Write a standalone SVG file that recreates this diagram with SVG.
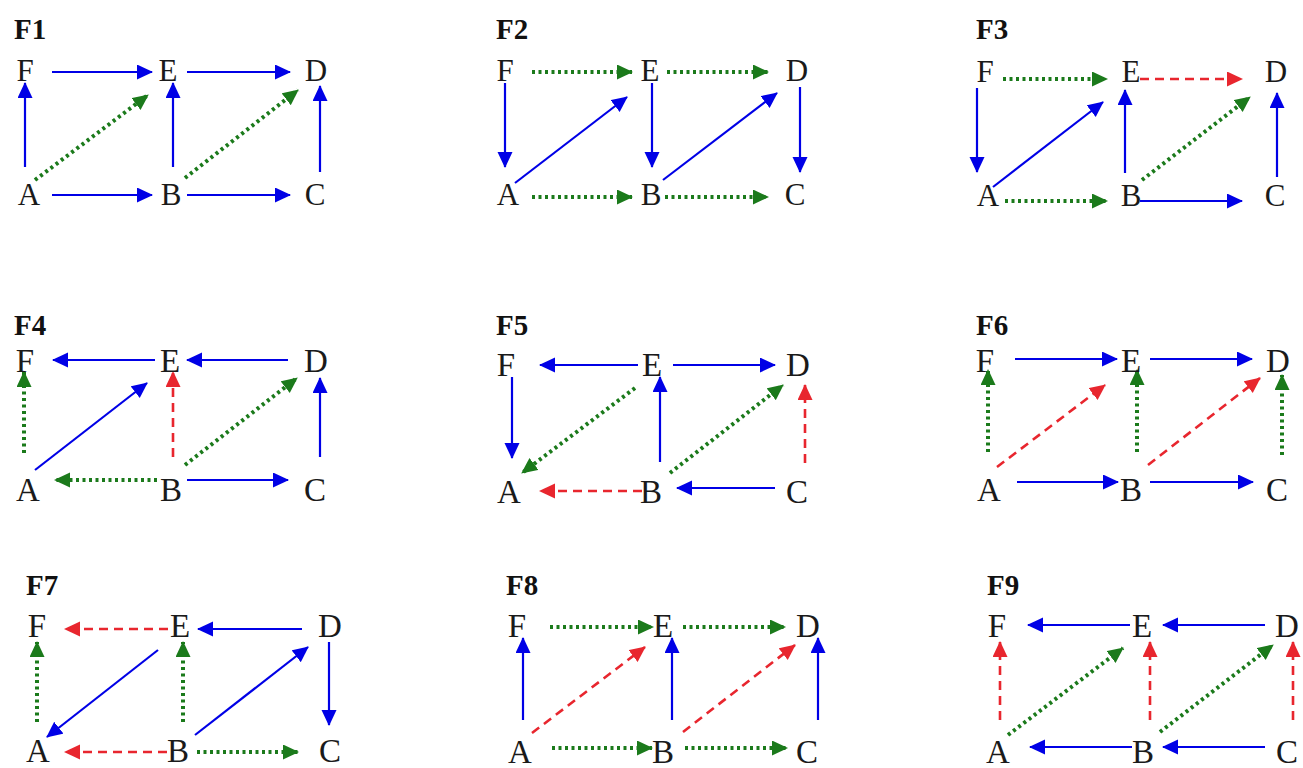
<svg xmlns="http://www.w3.org/2000/svg" width="1303" height="768" viewBox="0 0 1303 768">
<style>
.n{font-family:"Liberation Serif","Times New Roman",serif;font-size:31px;fill:#1a1a1a;text-anchor:middle}
.n2{font-size:33px}
.t{font-family:"Liberation Serif","Times New Roman",serif;font-size:29px;font-weight:bold;fill:#111}
.b{stroke:#0000e6;stroke-width:2.2;fill:none;marker-end:url(#ab)}
.g{stroke:#1b7a1b;stroke-width:4;stroke-dasharray:3 3.5;fill:none;marker-end:url(#ag)}
.r{stroke:#e8262e;stroke-width:2.6;stroke-dasharray:9 6;fill:none;marker-end:url(#ar)}
</style>
<defs>
<marker id="ab" markerUnits="userSpaceOnUse" markerWidth="17" markerHeight="16" refX="15" refY="7.5" orient="auto"><path d="M0,0 L16,7.5 L0,15 z" fill="#0000e6"/></marker>
<marker id="ag" markerUnits="userSpaceOnUse" markerWidth="17" markerHeight="16" refX="15" refY="7.5" orient="auto"><path d="M0,0 L16,7.5 L0,15 z" fill="#1b7a1b"/></marker>
<marker id="ar" markerUnits="userSpaceOnUse" markerWidth="17" markerHeight="16" refX="15" refY="7.5" orient="auto"><path d="M0,0 L16,7.5 L0,15 z" fill="#e8262e"/></marker>
</defs>
<rect width="1303" height="768" fill="#ffffff"/>

<g id="connectors">
<!-- F1 -->
<line class="b" x1="52" y1="72" x2="152" y2="72"/>
<line class="b" x1="187" y1="72" x2="290" y2="72"/>
<line class="b" x1="25" y1="167" x2="25" y2="83"/>
<line class="b" x1="173" y1="167" x2="173" y2="83"/>
<line class="b" x1="320" y1="172" x2="320" y2="86"/>
<line class="b" x1="52" y1="195" x2="152" y2="195"/>
<line class="b" x1="187" y1="195" x2="290" y2="195"/>
<line class="g" x1="35" y1="180" x2="148" y2="95"/>
<line class="g" x1="185" y1="178" x2="298" y2="90"/>
<!-- F2 -->
<line class="g" x1="532" y1="72" x2="632" y2="72"/>
<line class="g" x1="667" y1="72" x2="768" y2="72"/>
<line class="b" x1="505" y1="83" x2="505" y2="167"/>
<line class="b" x1="652" y1="83" x2="652" y2="167"/>
<line class="b" x1="800" y1="87" x2="800" y2="172"/>
<line class="b" x1="515" y1="183" x2="627" y2="97"/>
<line class="b" x1="663" y1="180" x2="777" y2="93"/>
<line class="g" x1="532" y1="197" x2="632" y2="197"/>
<line class="g" x1="665" y1="197" x2="768" y2="197"/>
<!-- F3 -->
<line class="g" x1="1003" y1="79" x2="1107" y2="79"/>
<line class="r" x1="1140" y1="79" x2="1242" y2="79"/>
<line class="b" x1="977" y1="88" x2="977" y2="172"/>
<line class="b" x1="993" y1="187" x2="1103" y2="102"/>
<line class="b" x1="1125" y1="173" x2="1125" y2="90"/>
<line class="g" x1="1142" y1="180" x2="1250" y2="97"/>
<line class="b" x1="1277" y1="177" x2="1277" y2="93"/>
<line class="g" x1="1005" y1="201" x2="1107" y2="201"/>
<line class="b" x1="1140" y1="201" x2="1242" y2="201"/>
<!-- F4 -->
<line class="b" x1="155" y1="360" x2="53" y2="360"/>
<line class="b" x1="288" y1="360" x2="187" y2="360"/>
<line class="g" x1="24" y1="453" x2="24" y2="372"/>
<line class="b" x1="35" y1="470" x2="147" y2="383"/>
<line class="r" x1="173" y1="457" x2="173" y2="372"/>
<line class="g" x1="185" y1="465" x2="297" y2="378"/>
<line class="b" x1="320" y1="457" x2="320" y2="378"/>
<line class="g" x1="157" y1="480" x2="55" y2="480"/>
<line class="b" x1="187" y1="480" x2="288" y2="480"/>
<!-- F5 -->
<line class="b" x1="638" y1="365" x2="540" y2="365"/>
<line class="b" x1="673" y1="365" x2="775" y2="365"/>
<line class="b" x1="512" y1="377" x2="512" y2="458"/>
<line class="g" x1="635" y1="388" x2="522" y2="473"/>
<line class="b" x1="660" y1="462" x2="660" y2="377"/>
<line class="g" x1="670" y1="473" x2="783" y2="385"/>
<line class="r" x1="805" y1="463" x2="805" y2="385"/>
<line class="r" x1="642" y1="491" x2="540" y2="491"/>
<line class="b" x1="775" y1="488" x2="677" y2="488"/>
<!-- F6 -->
<line class="b" x1="1015" y1="359" x2="1117" y2="359"/>
<line class="b" x1="1150" y1="359" x2="1252" y2="359"/>
<line class="g" x1="988" y1="452" x2="988" y2="370"/>
<line class="r" x1="997" y1="467" x2="1105" y2="385"/>
<line class="g" x1="1137" y1="452" x2="1137" y2="370"/>
<line class="r" x1="1148" y1="465" x2="1260" y2="378"/>
<line class="g" x1="1282" y1="455" x2="1282" y2="375"/>
<line class="b" x1="1017" y1="482" x2="1118" y2="482"/>
<line class="b" x1="1150" y1="482" x2="1253" y2="482"/>
<!-- F7 -->
<line class="r" x1="168" y1="629" x2="65" y2="629"/>
<line class="b" x1="302" y1="629" x2="198" y2="629"/>
<line class="g" x1="37" y1="722" x2="37" y2="642"/>
<line class="b" x1="158" y1="650" x2="47" y2="737"/>
<line class="g" x1="183" y1="722" x2="183" y2="642"/>
<line class="b" x1="195" y1="735" x2="308" y2="647"/>
<line class="b" x1="329" y1="642" x2="329" y2="725"/>
<line class="r" x1="167" y1="752" x2="65" y2="752"/>
<line class="g" x1="197" y1="752" x2="298" y2="752"/>
<!-- F8 -->
<line class="g" x1="550" y1="627" x2="653" y2="627"/>
<line class="g" x1="683" y1="627" x2="785" y2="627"/>
<line class="b" x1="523" y1="720" x2="523" y2="638"/>
<line class="r" x1="532" y1="733" x2="645" y2="647"/>
<line class="b" x1="672" y1="720" x2="672" y2="638"/>
<line class="r" x1="683" y1="732" x2="795" y2="645"/>
<line class="b" x1="818" y1="720" x2="818" y2="638"/>
<line class="g" x1="552" y1="748" x2="652" y2="748"/>
<line class="g" x1="685" y1="748" x2="787" y2="748"/>
<!-- F9 -->
<line class="b" x1="1130" y1="625" x2="1028" y2="625"/>
<line class="b" x1="1265" y1="625" x2="1163" y2="625"/>
<line class="r" x1="1000" y1="720" x2="1000" y2="642"/>
<line class="g" x1="1008" y1="735" x2="1123" y2="648"/>
<line class="r" x1="1150" y1="720" x2="1150" y2="642"/>
<line class="g" x1="1160" y1="732" x2="1273" y2="645"/>
<line class="r" x1="1293" y1="720" x2="1293" y2="642"/>
<line class="b" x1="1132" y1="747" x2="1030" y2="747"/>
<line class="b" x1="1265" y1="747" x2="1163" y2="747"/>
</g>

<g id="titles">
<text class="t" x="14" y="39">F1</text>
<text class="t" x="496" y="39">F2</text>
<text class="t" x="976" y="39">F3</text>
<text class="t" x="14" y="335">F4</text>
<text class="t" x="496" y="335">F5</text>
<text class="t" x="976" y="335">F6</text>
<text class="t" x="26" y="595">F7</text>
<text class="t" x="506" y="595">F8</text>
<text class="t" x="987" y="595">F9</text>
</g>

<g id="f1-F"><text class="n" x="25" y="81">F</text></g>
<g id="f1-E"><text class="n" x="168" y="81">E</text></g>
<g id="f1-D"><text class="n" x="316" y="81">D</text></g>
<g id="f1-A"><text class="n" x="29" y="205">A</text></g>
<g id="f1-B"><text class="n" x="171" y="205">B</text></g>
<g id="f1-C"><text class="n" x="315" y="205">C</text></g>

<g id="f2-F"><text class="n" x="505" y="81">F</text></g>
<g id="f2-E"><text class="n" x="650" y="81">E</text></g>
<g id="f2-D"><text class="n" x="797" y="81">D</text></g>
<g id="f2-A"><text class="n" x="508" y="205">A</text></g>
<g id="f2-B"><text class="n" x="651" y="205">B</text></g>
<g id="f2-C"><text class="n" x="795" y="205">C</text></g>

<g id="f3-F"><text class="n" x="985" y="82">F</text></g>
<g id="f3-E"><text class="n" x="1131" y="82">E</text></g>
<g id="f3-D"><text class="n" x="1276" y="82">D</text></g>
<g id="f3-A"><text class="n" x="988" y="206">A</text></g>
<g id="f3-B"><text class="n" x="1131" y="206">B</text></g>
<g id="f3-C"><text class="n" x="1275" y="206">C</text></g>

<g id="f4-F"><text class="n n2" x="25" y="372">F</text></g>
<g id="f4-E"><text class="n n2" x="170" y="372">E</text></g>
<g id="f4-D"><text class="n n2" x="316" y="372">D</text></g>
<g id="f4-A"><text class="n n2" x="28" y="501">A</text></g>
<g id="f4-B"><text class="n n2" x="171" y="501">B</text></g>
<g id="f4-C"><text class="n n2" x="315" y="501">C</text></g>

<g id="f5-F"><text class="n n2" x="506" y="376">F</text></g>
<g id="f5-E"><text class="n n2" x="652" y="376">E</text></g>
<g id="f5-D"><text class="n n2" x="798" y="376">D</text></g>
<g id="f5-A"><text class="n n2" x="509" y="503">A</text></g>
<g id="f5-B"><text class="n n2" x="651" y="503">B</text></g>
<g id="f5-C"><text class="n n2" x="797" y="503">C</text></g>

<g id="f6-F"><text class="n n2" x="985" y="372">F</text></g>
<g id="f6-E"><text class="n n2" x="1131" y="372">E</text></g>
<g id="f6-D"><text class="n n2" x="1278" y="372">D</text></g>
<g id="f6-A"><text class="n n2" x="989" y="501">A</text></g>
<g id="f6-B"><text class="n n2" x="1131" y="501">B</text></g>
<g id="f6-C"><text class="n n2" x="1277" y="501">C</text></g>

<g id="f7-F"><text class="n n2" x="37" y="637">F</text></g>
<g id="f7-E"><text class="n n2" x="180" y="637">E</text></g>
<g id="f7-D"><text class="n n2" x="330" y="637">D</text></g>
<g id="f7-A"><text class="n n2" x="38" y="762">A</text></g>
<g id="f7-B"><text class="n n2" x="178" y="762">B</text></g>
<g id="f7-C"><text class="n n2" x="330" y="762">C</text></g>

<g id="f8-F"><text class="n n2" x="517" y="637">F</text></g>
<g id="f8-E"><text class="n n2" x="663" y="637">E</text></g>
<g id="f8-D"><text class="n n2" x="808" y="637">D</text></g>
<g id="f8-A"><text class="n n2" x="520" y="763">A</text></g>
<g id="f8-B"><text class="n n2" x="663" y="763">B</text></g>
<g id="f8-C"><text class="n n2" x="807" y="763">C</text></g>

<g id="f9-F"><text class="n n2" x="997" y="637">F</text></g>
<g id="f9-E"><text class="n n2" x="1142" y="637">E</text></g>
<g id="f9-D"><text class="n n2" x="1287" y="637">D</text></g>
<g id="f9-A"><text class="n n2" x="998" y="763">A</text></g>
<g id="f9-B"><text class="n n2" x="1143" y="763">B</text></g>
<g id="f9-C"><text class="n n2" x="1287" y="763">C</text></g>
</svg>
